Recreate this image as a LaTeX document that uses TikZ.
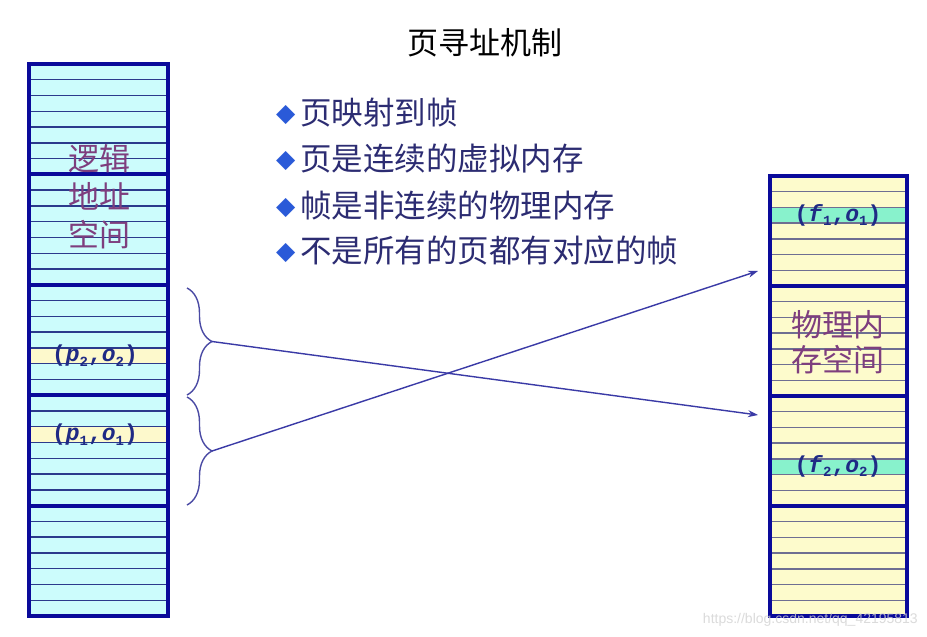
\documentclass[tikz,border=0pt]{standalone}
\usepackage{fontspec}
\setmainfont{Liberation Sans}
\newfontfamily\cjk{Noto Sans CJK SC}
\newfontfamily\monof{Liberation Mono}
\newfontfamily\dejavu{DejaVu Sans}
\usetikzlibrary{arrows.meta,decorations.pathreplacing}
\definecolor{bordercol}{HTML}{0A0A9A}
\definecolor{lfill}{HTML}{CCFCFC}
\definecolor{lhl}{HTML}{FDF9CC}
\definecolor{rfill}{HTML}{FDFBCC}
\definecolor{rhl}{HTML}{88F2CC}
\definecolor{lthincol}{HTML}{2B3A8C}
\definecolor{rthincol}{HTML}{6E6E92}
\definecolor{areacol}{HTML}{7E3E7E}
\definecolor{bulletcol}{HTML}{2A5AD8}
\definecolor{textcol}{HTML}{2C2C72}
\definecolor{addrcol}{HTML}{1F2A85}
\definecolor{linkcol}{HTML}{3A3AA6}
\definecolor{bracecol}{HTML}{4A4AA4}
\newcommand\myaddr[3]{(\textit{#1}\raisebox{-0.35ex}{\fontsize{14}{14}\selectfont #2},\textit{o}\raisebox{-0.35ex}{\fontsize{14}{14}\selectfont #3})}
\begin{document}
\begin{tikzpicture}[x=1pt,y=-1pt,
  outerbox/.style={draw=bordercol,line width=4pt},
  sepline/.style={draw=bordercol,line width=4pt},
  lthin/.style={draw=lthincol,line width=1.4pt},
  rthin/.style={draw=rthincol,line width=1.4pt},
  arealbl/.style={text=areacol,font=\cjk\fontsize{31}{38}\selectfont,align=center,inner sep=0pt},
  addrlbl/.style={text=addrcol,font=\monof\bfseries\fontsize{23}{23}\selectfont,inner sep=0pt},
  bulletline/.style={anchor=west,text=textcol,font=\cjk\fontsize{31.5}{31.5}\selectfont,inner sep=0pt},
  titlelbl/.style={text=black,font=\cjk\fontsize{31}{31}\selectfont,inner sep=0pt},
  link/.style={draw=linkcol,line width=1.4pt,-{Stealth[length=10pt,width=7pt]}},
  bracestyle/.style={draw=bracecol,line width=1.4pt,decorate,decoration={brace,amplitude=25pt}}
]
\useasboundingbox[fill=white] (0,0) rectangle (927,637);

% title
\node[titlelbl] (title) at (485,43) {页寻址机制};

% bullet list
\newcommand\bul{\raisebox{3pt}{\dejavu\fontsize{25}{25}\selectfont\color{bulletcol}◆}\hspace{5pt}}
\node[bulletline] (b1) at (276,113) {\bul 页映射到帧};
\node[bulletline] (b2) at (276,159) {\bul 页是连续的虚拟内存};
\node[bulletline] (b3) at (276,205) {\bul 帧是非连续的物理内存};
\node[bulletline] (b4) at (276,251) {\bul 不是所有的页都有对应的帧};

% left column (logical address space)
\fill[lfill] (29,64) rectangle (168,616);
\fill[lhl] (29,347.9) rectangle (168,363.7);
\fill[lhl] (29,426.7) rectangle (168,442.5);
\foreach \s in {0,...,4}{
  \foreach \r in {1,...,6}{
    \draw[lthin] (29,{64+110.4*\s+15.77*\r}) -- (168,{64+110.4*\s+15.77*\r});
  }
}
\foreach \s in {1,...,4}{
  \draw[sepline] (29,{64+110.4*\s}) -- (168,{64+110.4*\s});
}
\draw[outerbox] (29,64) rectangle (168,616);
\node[arealbl] (lspace) at (99,197) {逻辑\\地址\\空间};
\node[addrlbl] (p2) at (95,356) {\myaddr{p}{2}{2}};
\node[addrlbl] (p1) at (95,435) {\myaddr{p}{1}{1}};

% right column (physical memory)
\fill[rfill] (770,176) rectangle (907,616);
\fill[rhl] (770,207.4) rectangle (907,223.1);
\fill[rhl] (770,458.9) rectangle (907,474.6);
\foreach \s in {0,...,3}{
  \foreach \r in {1,...,6}{
    \draw[rthin] (770,{176+110*\s+15.71*\r}) -- (907,{176+110*\s+15.71*\r});
  }
}
\foreach \s in {1,...,3}{
  \draw[sepline] (770,{176+110*\s}) -- (907,{176+110*\s});
}
\draw[outerbox] (770,176) rectangle (907,616);
\node[arealbl,font=\cjk\fontsize{31}{35}\selectfont] (pspace) at (838,342) {物理内\\存空间};
\node[addrlbl] (f1) at (838,215) {\myaddr{f}{1}{1}};
\node[addrlbl] (f2) at (838,466) {\myaddr{f}{2}{2}};

% braces
\coordinate (ua) at (187,288);
\coordinate (ub) at (187,395);
\coordinate (la) at (187,397);
\coordinate (lb) at (187,505);
\coordinate (utip) at (212,341.5);
\coordinate (ltip) at (212,451);
\draw[bracestyle] (ua) -- (ub);
\draw[bracestyle] (la) -- (lb);

% mapping arrows
\coordinate (t1) at (758,415);
\coordinate (t2) at (758,271);
\draw[link] (utip) -- (t1);
\draw[link] (ltip) -- (t2);

% watermark
\node[text=gray!35,opacity=0.8,font=\fontsize{14}{14}\selectfont,anchor=east,inner sep=0pt] (wm) at (918,620) {https://blog.csdn.net/qq\_42195813};
\end{tikzpicture}
\end{document}
